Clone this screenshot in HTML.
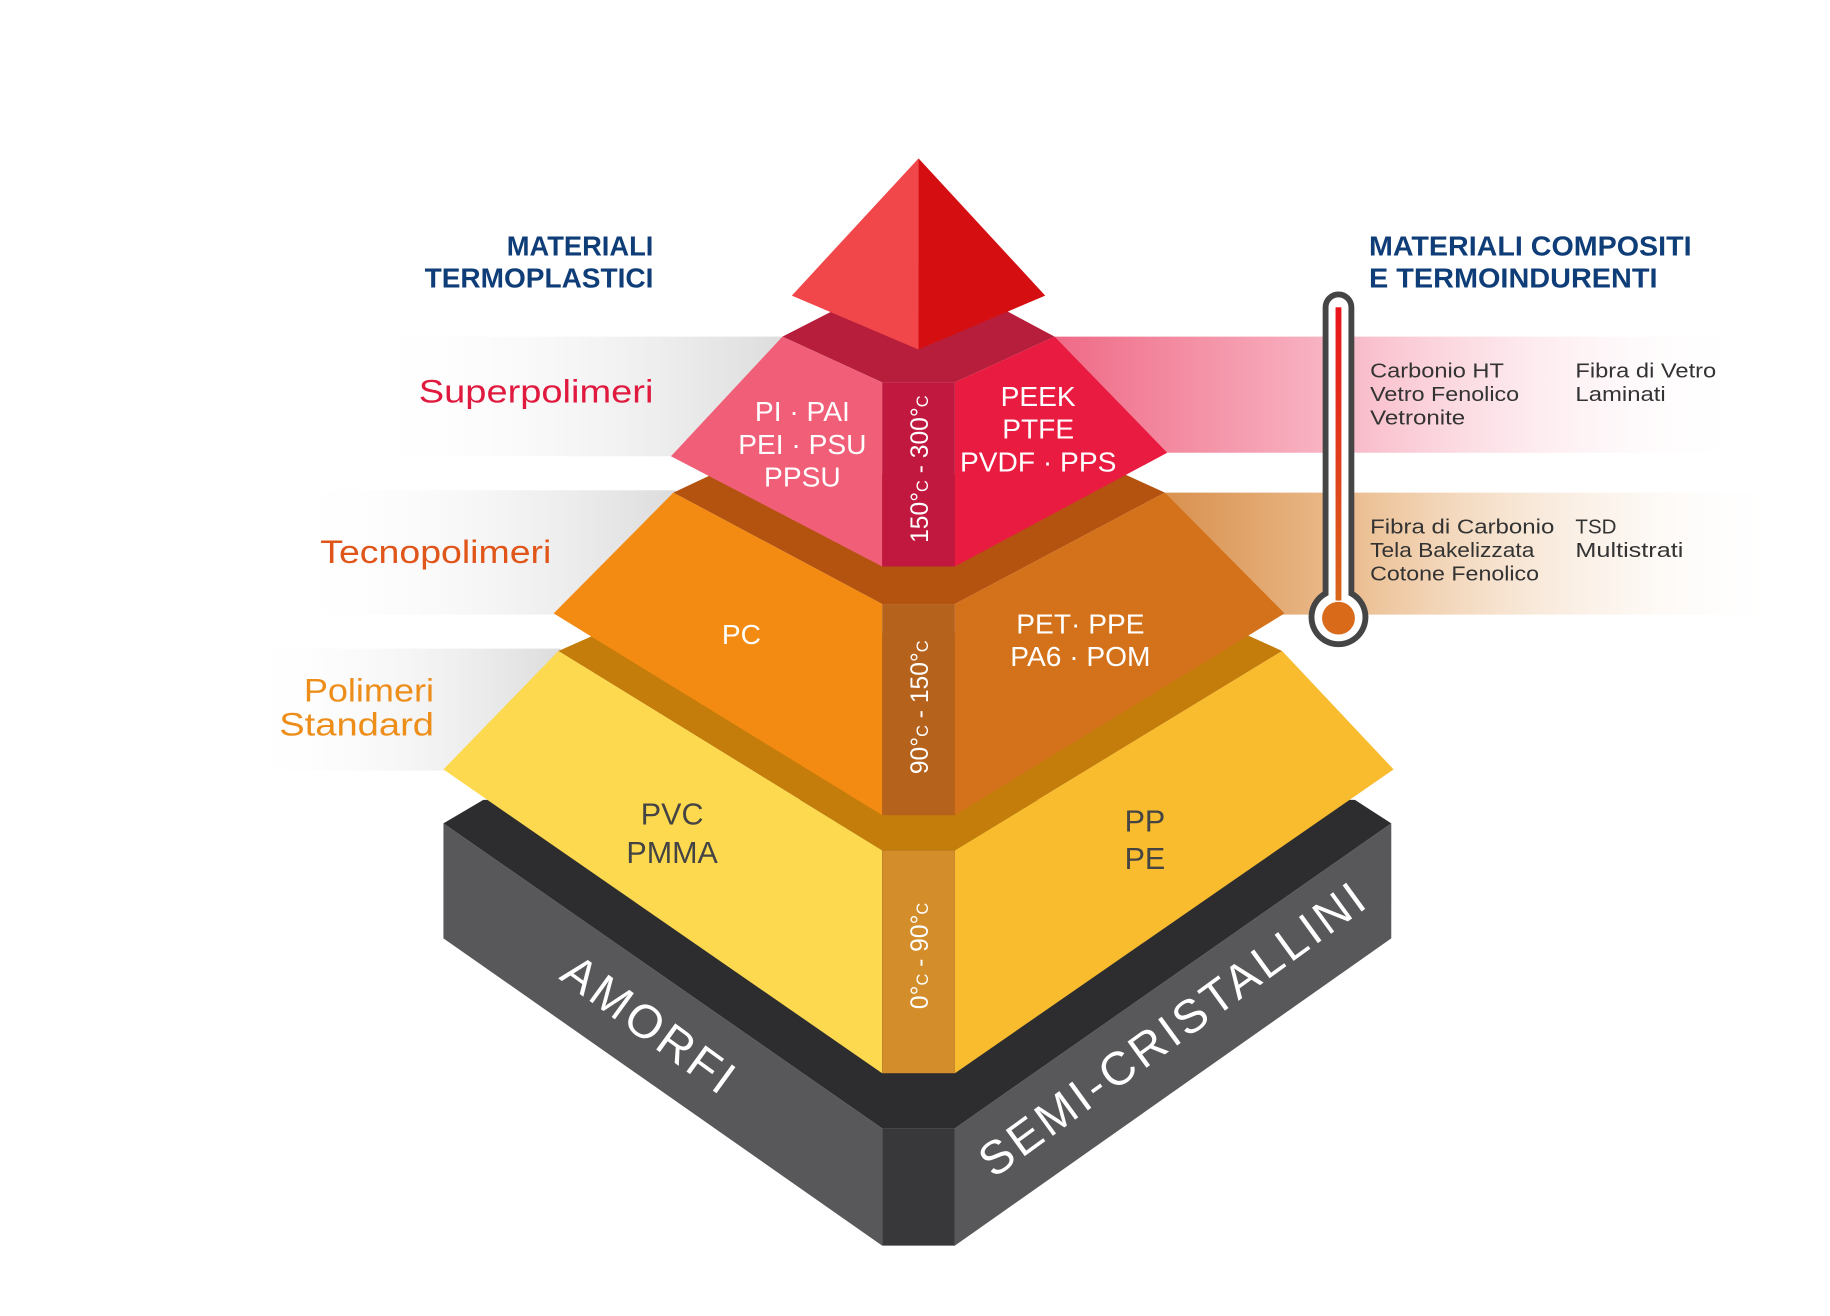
<!DOCTYPE html>
<html><head><meta charset="utf-8"><style>
html,body{margin:0;padding:0;background:#fff;}
svg{display:block;}
text{font-family:"Liberation Sans","DejaVu Sans",sans-serif;}
</style></head><body>
<svg width="1830" height="1316" viewBox="0 0 1560 1122" preserveAspectRatio="none" xmlns="http://www.w3.org/2000/svg">
<defs>
<linearGradient id="gl1" x1="0" x2="1"><stop offset="0" stop-color="#fff" stop-opacity="0"/><stop offset="1" stop-color="#dcdcdc"/></linearGradient>
<linearGradient id="gr1" x1="0" x2="1"><stop offset="0" stop-color="#ef6a86"/><stop offset="0.45" stop-color="#f9bfcc"/><stop offset="1" stop-color="#fff" stop-opacity="0"/></linearGradient>
<linearGradient id="gr2" x1="0" x2="1"><stop offset="0" stop-color="#d9914f"/><stop offset="0.3" stop-color="#ebbd8f"/><stop offset="1" stop-color="#fff" stop-opacity="0"/></linearGradient>
<linearGradient id="therm" x1="0" y1="0" x2="0" y2="1"><stop offset="0" stop-color="#e8141c"/><stop offset="1" stop-color="#d8661a"/></linearGradient>
</defs>
<rect width="1560" height="1122" fill="#fff"/>
<rect x="300" y="287" width="370" height="102" fill="url(#gl1)"/>
<rect x="240" y="418" width="336" height="106" fill="url(#gl1)"/>
<rect x="205" y="553" width="273" height="104" fill="url(#gl1)"/>
<rect x="899" y="287" width="590" height="99" fill="url(#gr1)"/>
<rect x="993" y="420" width="530" height="104" fill="url(#gr2)"/>

<polygon points="378,702 412,682 1155,682 1186,702 814,962 752,962" fill="#2d2d2f"/>
<polygon points="378,702 752,962 752,1062 378,800" fill="#58585a"/>
<polygon points="814,962 1186,702 1186,800 814,1062" fill="#58585a"/>
<rect x="752" y="962" width="62" height="100" fill="#38383a"/>

<polygon points="476,555 510,540 1060,540 1093,555 814,725 752,725" fill="#c47d0a"/>
<polygon points="476,555 752,725 752,915 378,656" fill="#fdd94f"/>
<polygon points="814,725 1093,555 1188,656 814,915" fill="#f8bc2e"/>
<rect x="752" y="725" width="62" height="190" fill="#d38d2a"/>

<polygon points="574,420 608,404 958,404 993,420 814,515 752,515" fill="#b3530f"/>
<polygon points="574,420 752,515 752,695 472,523" fill="#f38a12"/>
<polygon points="814,515 993,420 1095,523 814,695" fill="#d3721a"/>
<rect x="752" y="515" width="62" height="180" fill="#b5621c"/>

<polygon points="667,287 712,264 856,264 899,287 814,326 752,326" fill="#b71e3c"/>
<polygon points="667,287 752,326 752,483 572,389" fill="#f05e77"/>
<polygon points="814,326 899,287 995,386 814,483" fill="#ea1b40"/>
<rect x="752" y="326" width="62" height="157" fill="#c0183f"/>

<polygon points="783,135 675,252 783,298" fill="#f2474a"/>
<polygon points="783,135 891,252 783,298" fill="#d50f11"/>

<path d="M1130,262 a11,11 0 0 1 22,0 V506 a23,23 0 1 1 -22,0 Z" fill="#fff" stroke="#454545" stroke-width="5"/>
<rect x="1138.5" y="262" width="5" height="250" fill="url(#therm)"/>
<circle cx="1141" cy="527" r="14" fill="#d86a1a"/>

<g font-weight="bold" fill="#0f3d78" font-size="24" lengthAdjust="spacingAndGlyphs">
<text x="432" y="218" textLength="125" lengthAdjust="spacingAndGlyphs">MATERIALI</text>
<text x="362" y="245" textLength="195" lengthAdjust="spacingAndGlyphs">TERMOPLASTICI</text>
<text x="1167" y="218" textLength="275" lengthAdjust="spacingAndGlyphs">MATERIALI COMPOSITI</text>
<text x="1167" y="245" textLength="246" lengthAdjust="spacingAndGlyphs">E TERMOINDURENTI</text>
</g>
<text x="357" y="343" font-size="28" fill="#e0193e" textLength="200" lengthAdjust="spacingAndGlyphs">Superpolimeri</text>
<text x="273" y="480" font-size="28" fill="#e0561a" textLength="197" lengthAdjust="spacingAndGlyphs">Tecnopolimeri</text>
<text x="259" y="598" font-size="28" fill="#ee8e1a" textLength="111" lengthAdjust="spacingAndGlyphs">Polimeri</text>
<text x="238" y="627" font-size="28" fill="#ee8e1a" textLength="132" lengthAdjust="spacingAndGlyphs">Standard</text>

<g font-size="17" fill="#333">
<text x="1168" y="322" textLength="114" lengthAdjust="spacingAndGlyphs">Carbonio HT</text>
<text x="1168" y="342" textLength="127" lengthAdjust="spacingAndGlyphs">Vetro Fenolico</text>
<text x="1168" y="362" textLength="81" lengthAdjust="spacingAndGlyphs">Vetronite</text>
<text x="1343" y="322" textLength="120" lengthAdjust="spacingAndGlyphs">Fibra di Vetro</text>
<text x="1343" y="342" textLength="77" lengthAdjust="spacingAndGlyphs">Laminati</text>
<text x="1168" y="455" textLength="157" lengthAdjust="spacingAndGlyphs">Fibra di Carbonio</text>
<text x="1168" y="475" textLength="140" lengthAdjust="spacingAndGlyphs">Tela Bakelizzata</text>
<text x="1168" y="495" textLength="144" lengthAdjust="spacingAndGlyphs">Cotone Fenolico</text>
<text x="1343" y="455" textLength="35" lengthAdjust="spacingAndGlyphs">TSD</text>
<text x="1343" y="475" textLength="92" lengthAdjust="spacingAndGlyphs">Multistrati</text>
</g>

<g font-size="24" fill="#fff" text-anchor="middle">
<text x="684" y="359">PI · PAI</text>
<text x="684" y="387">PEI · PSU</text>
<text x="684" y="415">PPSU</text>
<text x="885" y="346">PEEK</text>
<text x="885" y="374">PTFE</text>
<text x="885" y="402">PVDF · PPS</text>
<text x="632" y="549">PC</text>
<text x="921" y="540">PET· PPE</text>
<text x="921" y="568">PA6 · POM</text>
</g>
<g font-size="26" fill="#444" text-anchor="middle">
<text x="573" y="703">PVC</text>
<text x="573" y="736">PMMA</text>
<text x="976" y="709">PP</text>
<text x="976" y="741">PE</text>
</g>

<g font-size="21" fill="#fff" text-anchor="middle">
<text transform="translate(791,400) rotate(-90)">150°<tspan font-size="14">C</tspan> - 300°<tspan font-size="14">C</tspan></text>
<text transform="translate(791,603) rotate(-90)">90°<tspan font-size="14">C</tspan> - 150°<tspan font-size="14">C</tspan></text>
<text transform="translate(791,815) rotate(-90)">0°<tspan font-size="14">C</tspan> - 90°<tspan font-size="14">C</tspan></text>
</g>

<text transform="translate(546,885) rotate(36)" font-size="40" fill="#fff" text-anchor="middle" letter-spacing="3">AMORFI</text>
<text transform="translate(1008,888) rotate(-36)" font-size="40" fill="#fff" text-anchor="middle" letter-spacing="3">SEMI-CRISTALLINI</text>
</svg>
</body></html>
